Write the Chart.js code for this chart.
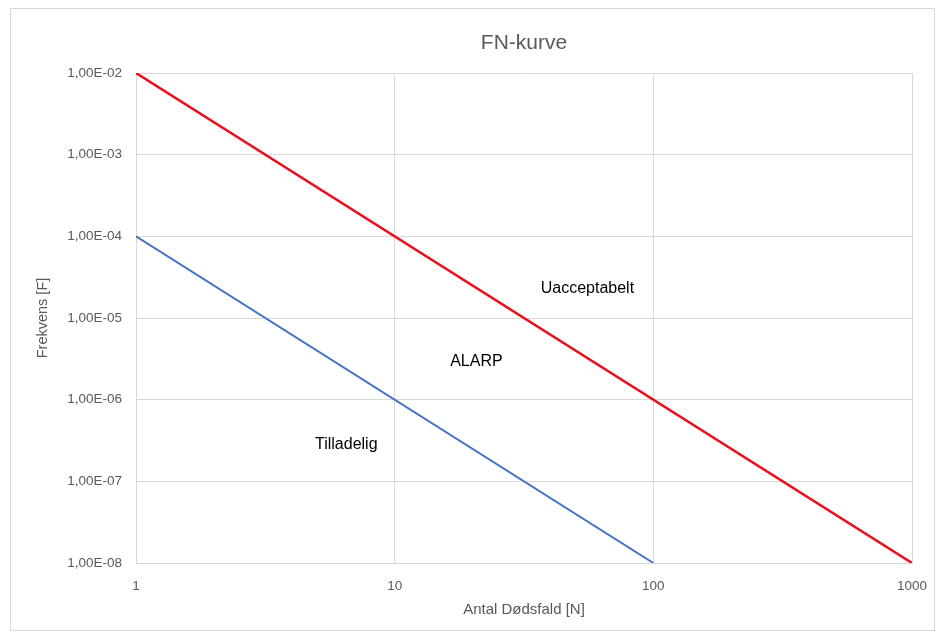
<!DOCTYPE html>
<html>
<head>
<meta charset="utf-8">
<script src="https://cdn.jsdelivr.net/npm/chart.js@4/dist/chart.umd.min.js"></script>
<style>
  html, body { margin: 0; padding: 0; background: #fff; }
  #wrap { position: relative; width: 938px; height: 635px; }
  #frame { position: absolute; left: 10px; top: 8px; width: 925px; height: 623px;
           border: 1px solid #d9d9d9; box-sizing: border-box; pointer-events: none; }
</style>
</head>
<body>
<div id="wrap">
  <canvas id="c" width="938" height="635"></canvas>
  <div id="frame"></div>
</div>
<script>
// FN-kurve data (log-log)
const xTicks = [1, 10, 100, 1000];
const yTicks = [1e-8, 1e-7, 1e-6, 1e-5, 1e-4, 1e-3, 1e-2];

const uaccN = [1, 1000];
const uaccF = [1e-2, 1e-8];
const tillN = [1, 100];
const tillF = [1e-4, 1e-8];

const zoneLabels = ['Uacceptabelt', 'ALARP', 'Tilladelig'];
const zoneN = [55.6, 20.7, 6.5];
const zoneF = [2.27e-5, 2.9e-6, 2.8e-7];

const FONT = "'Liberation Sans', Arial, sans-serif";
const GRID = '#d9d9d9';
const TXT = '#595959';

const pts = (xs, ys) => xs.map((x, i) => ({x, y: ys[i]}));

function fmtSci(v) {
  let e = Math.round(Math.log10(v));
  let s = Math.abs(e) < 10 ? '0' + Math.abs(e) : '' + Math.abs(e);
  return '1,00E' + (e < 0 ? '-' : '+') + s;
}

const zoneText = {
  id: 'zoneText',
  afterDatasetsDraw(chart) {
    const {ctx, scales: {x, y}} = chart;
    ctx.save();
    ctx.font = '16px ' + FONT;
    ctx.fillStyle = '#000';
    ctx.textAlign = 'center';
    ctx.textBaseline = 'middle';
    zoneLabels.forEach((t, i) => {
      ctx.fillText(t, x.getPixelForValue(zoneN[i]), y.getPixelForValue(zoneF[i]));
    });
    ctx.restore();
  }
};

new Chart(document.getElementById('c'), {
  type: 'scatter',
  data: {
    datasets: [
      { label: 'Uacceptabelt', data: pts(uaccN, uaccF), showLine: true,
        borderColor: '#e8101e', borderWidth: 2.5, pointRadius: 0 },
      { label: 'Tilladelig', data: pts(tillN, tillF), showLine: true,
        borderColor: '#4472c4', borderWidth: 2, pointRadius: 0 },
    ]
  },
  options: {
    responsive: false,
    animation: false,
    layout: { padding: { left: 0, right: 26, top: 0, bottom: 0 } },
    plugins: {
      legend: { display: false },
      tooltip: { enabled: false },
      title: { display: true, text: 'FN-kurve', color: TXT, fullSize: false,
        font: { family: FONT, size: 21, weight: 'normal' },
        padding: { top: 31, bottom: 16.8 } },
    },
    scales: {
      x: {
        type: 'logarithmic', min: 1, max: 1000,
        afterBuildTicks: s => { s.ticks = xTicks.map(v => ({value: v})); },
        afterFit: s => { s.height = 72; s.paddingLeft = 0; s.paddingRight = 0; },
        ticks: { color: TXT, font: { family: FONT, size: 13.5 }, padding: 15,
          maxRotation: 0, callback: v => String(v) },
        grid: { color: GRID, drawTicks: false, lineWidth: 1 },
        border: { color: GRID },
        title: { display: true, text: 'Antal Dødsfald [N]', color: TXT,
          font: { family: FONT, size: 15 }, padding: { top: 0, bottom: 16 } },
      },
      y: {
        type: 'logarithmic', min: 1e-8, max: 1e-2,
        afterBuildTicks: s => { s.ticks = yTicks.map(v => ({value: v})); },
        afterFit: s => { s.width = 136; },
        ticks: { color: TXT, font: { family: FONT, size: 13.5 }, padding: 14,
          callback: v => fmtSci(v) },
        grid: { color: GRID, drawTicks: false, lineWidth: 1 },
        border: { color: GRID },
        title: { display: true, text: 'Frekvens [F]', color: TXT,
          font: { family: FONT, size: 14.5 }, padding: { top: 34, bottom: 0 } },
      }
    }
  },
  plugins: [zoneText]
});
</script>
</body>
</html>
